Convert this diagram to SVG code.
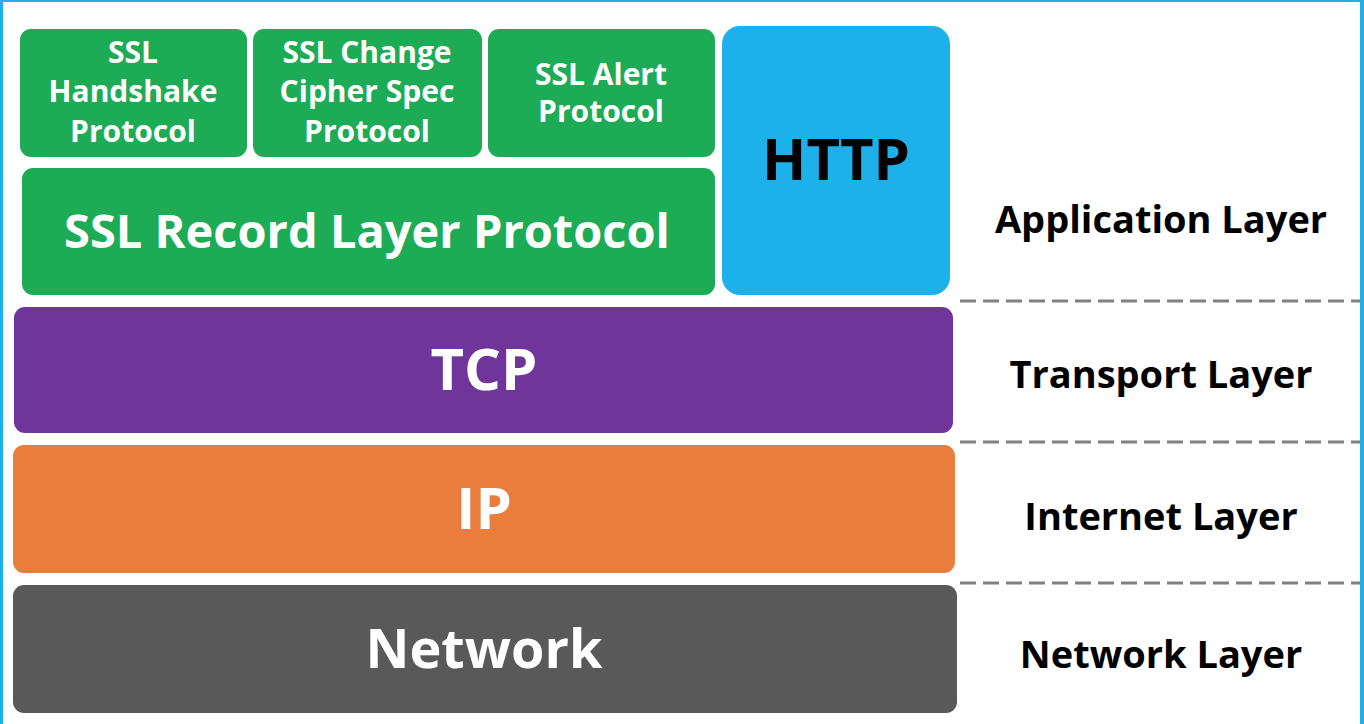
<svg xmlns="http://www.w3.org/2000/svg" width="1364" height="724" viewBox="0 0 1364 724">
<style>
  text { font-family: "Open Sans", "Noto Sans", "Liberation Sans", sans-serif; font-weight: 700; text-anchor: middle; }
  .w { fill: #ffffff; }
  .k { fill: #000000; }
  .s { font-size: 30px; }
  .lbl { font-size: 38px; }
  .green { fill: #1DAB55; }
  .sep { stroke: #808080; stroke-width: 3; stroke-dasharray: 16 7; fill: none; }
</style>
<rect x="0" y="0" width="1364" height="724" fill="#ffffff"/>
<g id="frame" fill="#1EB0EA">
  <rect x="0" y="0" width="1364" height="2"/>
  <rect x="0" y="0" width="3" height="724"/>
  <rect x="1360" y="0" width="4" height="724"/>
</g>
<g id="connectors">
  <line class="sep" x1="960" y1="301" x2="1360" y2="301"/>
  <line class="sep" x1="960" y1="442" x2="1360" y2="442"/>
  <line class="sep" x1="960" y1="583" x2="1360" y2="583"/>
</g>
<g id="ssl-handshake">
  <rect class="green" x="20" y="29" width="227" height="128" rx="11"/>
  <text class="w s" x="133" y="63">SSL</text>
  <text class="w s" x="133" y="102">Handshake</text>
  <text class="w s" x="133" y="142">Protocol</text>
</g>
<g id="ssl-change-cipher">
  <rect class="green" x="253" y="29" width="229" height="128" rx="11"/>
  <text class="w s" x="367" y="63">SSL Change</text>
  <text class="w s" x="367" y="102">Cipher Spec</text>
  <text class="w s" x="367" y="142">Protocol</text>
</g>
<g id="ssl-alert">
  <rect class="green" x="488" y="29" width="227" height="128" rx="11"/>
  <text class="w s" x="601" y="85">SSL Alert</text>
  <text class="w s" x="601" y="122">Protocol</text>
</g>
<g id="ssl-record">
  <rect class="green" x="22" y="168" width="693" height="127" rx="11"/>
  <text class="w" x="367" y="248" font-size="47">SSL Record Layer Protocol</text>
</g>
<g id="http">
  <rect x="722" y="26" width="228" height="269" rx="18" fill="#1EB0EA"/>
  <text class="k" x="836" y="180" font-size="58">HTTP</text>
</g>
<g id="tcp">
  <rect x="14" y="307" width="939" height="126" rx="11" fill="#70359B"/>
  <text class="w" x="484" y="390" font-size="58">TCP</text>
</g>
<g id="ip">
  <rect x="13" y="445" width="942" height="128" rx="11" fill="#EA7C3C"/>
  <text class="w" x="484" y="529" font-size="58">IP</text>
</g>
<g id="network">
  <rect x="13" y="585" width="944" height="128" rx="11" fill="#595959"/>
  <text class="w" x="484" y="668" font-size="54">Network</text>
</g>
<g id="layer-labels">
  <text class="k lbl" x="1161" y="233">Application Layer</text>
  <text class="k lbl" x="1161" y="388">Transport Layer</text>
  <text class="k lbl" x="1161" y="530">Internet Layer</text>
  <text class="k lbl" x="1161" y="668">Network Layer</text>
</g>
</svg>
